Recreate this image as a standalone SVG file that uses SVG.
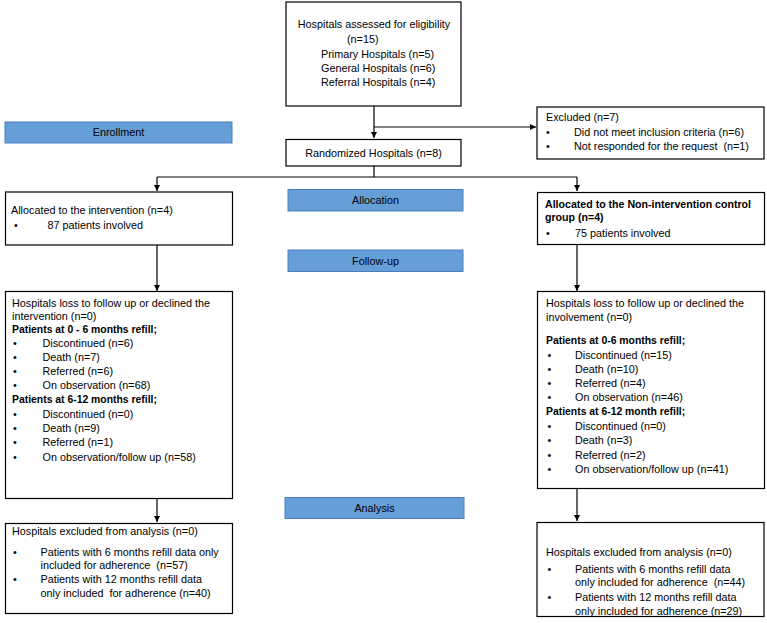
<svg xmlns="http://www.w3.org/2000/svg" width="767" height="623" viewBox="0 0 767 623">
<defs>
<marker id="ah" markerWidth="7" markerHeight="7" refX="6" refY="3.5" orient="auto" markerUnits="userSpaceOnUse">
<path d="M0,0.5 L6,3.5 L0,6.5 Z" fill="#000"/>
</marker>
<style>
.box{fill:#fff;stroke:#000;stroke-width:1.2}
.bar{fill:#669ed8;stroke:#4a7ebb;stroke-width:1}
text{font-family:"Liberation Sans",Arial,sans-serif;font-size:10.8px;fill:#000}
.c{text-anchor:middle}
.b{font-weight:bold;font-size:10.4px}
.ab{font-weight:bold;font-size:10.6px}
.p{white-space:pre}
.ln{fill:none;stroke:#000;stroke-width:1.2}
</style>
</defs>
<rect width="767" height="623" fill="#fff"/>

<g id="connectors">
<path class="ln" d="M374,106 V138" marker-end="url(#ah)"/>
<path class="ln" d="M374,127 H536" marker-end="url(#ah)"/>
<path class="ln" d="M374,166 V177"/>
<path class="ln" d="M157,177 H577"/>
<path class="ln" d="M157,177 V191" marker-end="url(#ah)"/>
<path class="ln" d="M577,177 V191" marker-end="url(#ah)"/>
<path class="ln" d="M157,245 V291" marker-end="url(#ah)"/>
<path class="ln" d="M577,244 V291" marker-end="url(#ah)"/>
<path class="ln" d="M157,498 V522" marker-end="url(#ah)"/>
<path class="ln" d="M577,488 V521" marker-end="url(#ah)"/>
</g>

<g id="assessed">
<rect class="box" x="286" y="2" width="175" height="104"/>
<text class="c" x="374" y="28">Hospitals assessed for eligibility</text>
<text x="347" y="43">(n=15)</text>
<text x="321" y="57.5">Primary Hospitals (n=5)</text>
<text x="321" y="72">General Hospitals (n=6)</text>
<text x="321" y="86">Referral Hospitals (n=4)</text>
</g>

<g id="enrollment">
<rect class="bar" x="5" y="122" width="227" height="21"/>
<text class="c" x="118.5" y="136">Enrollment</text>
</g>

<g id="excluded">
<rect class="box" x="537" y="107" width="227" height="52"/>
<text x="546" y="121">Excluded (n=7)</text>
<text x="546" y="135.5">•</text>
<text x="574" y="135.5">Did not meet inclusion criteria (n=6)</text>
<text x="546" y="149.5">•</text>
<text class="p" x="574" y="149.5">Not responded for the request  (n=1)</text>
</g>

<g id="randomized">
<rect class="box" x="286" y="139.5" width="175" height="26.5"/>
<text class="c" x="373.5" y="157">Randomized Hospitals (n=8)</text>
</g>

<g id="allocation">
<rect class="bar" x="288" y="189.5" width="175" height="21.5"/>
<text class="c" x="375.5" y="204">Allocation</text>
</g>

<g id="followup">
<rect class="bar" x="288" y="250" width="175" height="21.5"/>
<text class="c" x="375.5" y="264.5">Follow-up</text>
</g>

<g id="analysis">
<rect class="bar" x="285" y="497.5" width="179" height="21"/>
<text class="c" x="374.5" y="511.5">Analysis</text>
</g>

<g id="alloc-int">
<rect class="box" x="5.5" y="192" width="227" height="53"/>
<text x="11" y="214">Allocated to the intervention (n=4)</text>
<text x="14" y="229">•</text>
<text x="47.5" y="229">87 patients involved</text>
</g>

<g id="alloc-ctrl">
<rect class="box" x="537.5" y="192.5" width="227" height="52"/>
<text class="ab" x="545" y="208">Allocated to the Non-intervention control</text>
<text class="ab" x="545" y="220.5">group (n=4)</text>
<text x="546" y="237">•</text>
<text x="575" y="237">75 patients involved</text>
</g>

<g id="fu-int">
<rect class="box" x="5.5" y="291.5" width="227" height="207"/>
<text x="12" y="307">Hospitals loss to follow up or declined the</text>
<text x="12" y="319.5">intervention (n=0)</text>
<text class="b" x="12" y="333">Patients at 0 - 6 months refill;</text>
<text x="13" y="347">•</text><text x="42.5" y="347">Discontinued (n=6)</text>
<text x="13" y="361">•</text><text x="42.5" y="361">Death (n=7)</text>
<text x="13" y="375">•</text><text x="42.5" y="375">Referred (n=6)</text>
<text x="13" y="389">•</text><text x="42.5" y="389">On observation (n=68)</text>
<text class="b" x="12" y="403">Patients at 6-12 months refill;</text>
<text x="13" y="418">•</text><text x="42.5" y="418">Discontinued (n=0)</text>
<text x="13" y="432">•</text><text x="42.5" y="432">Death (n=9)</text>
<text x="13" y="446">•</text><text x="42.5" y="446">Referred (n=1)</text>
<text x="13" y="460.5">•</text><text x="42.5" y="460.5">On observation/follow up (n=58)</text>
</g>

<g id="fu-ctrl">
<rect class="box" x="537.5" y="291.5" width="227" height="197"/>
<text x="546" y="307">Hospitals loss to follow up or declined the</text>
<text x="546" y="321">involvement (n=0)</text>
<text class="b" x="546" y="344">Patients at 0-6 months refill;</text>
<text x="547.5" y="358.5">•</text><text x="575" y="358.5">Discontinued (n=15)</text>
<text x="547.5" y="372.5">•</text><text x="575" y="372.5">Death (n=10)</text>
<text x="547.5" y="387">•</text><text x="575" y="387">Referred (n=4)</text>
<text x="547.5" y="401">•</text><text x="575" y="401">On observation (n=46)</text>
<text class="b" x="546" y="415">Patients at 6-12 month refill;</text>
<text x="547.5" y="429.5">•</text><text x="575" y="429.5">Discontinued (n=0)</text>
<text x="547.5" y="444">•</text><text x="575" y="444">Death (n=3)</text>
<text x="547.5" y="458.5">•</text><text x="575" y="458.5">Referred (n=2)</text>
<text x="547.5" y="473">•</text><text x="575" y="473">On observation/follow up (n=41)</text>
</g>

<g id="an-int">
<rect class="box" x="5.5" y="523.5" width="227" height="90"/>
<text x="12" y="534.5">Hospitals excluded from analysis (n=0)</text>
<text x="13" y="555.5">•</text><text x="40.5" y="555.5">Patients with 6 months refill data only</text>
<text class="p" x="40.5" y="569">included for adherence  (n=57)</text>
<text x="13" y="582.5">•</text><text x="40.5" y="582.5">Patients with 12 months refill data</text>
<text class="p" x="40.5" y="596.5">only included  for adherence (n=40)</text>
</g>

<g id="an-ctrl">
<rect class="box" x="537" y="522.5" width="227" height="94"/>
<text x="546" y="555.5">Hospitals excluded from analysis (n=0)</text>
<text x="547.5" y="572.5">•</text><text x="575" y="572.5">Patients with 6 months refill data</text>
<text class="p" x="575" y="586">only included for adherence  (n=44)</text>
<text x="547.5" y="601">•</text><text x="575" y="601">Patients with 12 months refill data</text>
<text x="575" y="614.5">only included for adherence (n=29)</text>
</g>
</svg>
